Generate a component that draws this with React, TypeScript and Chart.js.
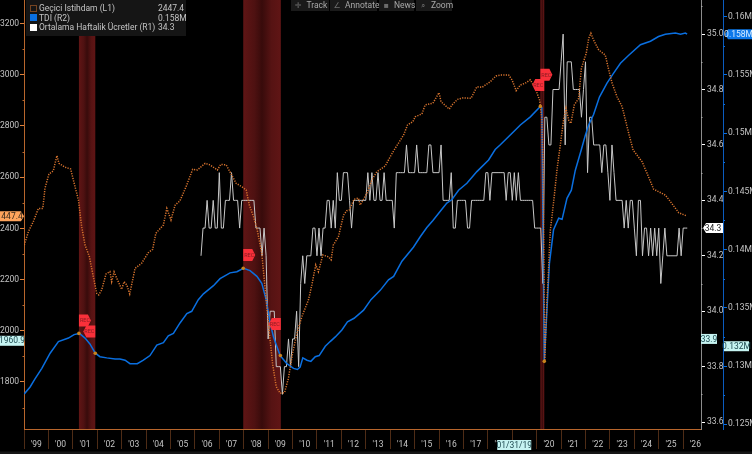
import React, { useEffect, useRef } from "react";
import { Chart, registerables } from "chart.js";

Chart.register(...registerables);

const tempYears = [1999.01,1999.18,1999.38,1999.59,1999.77,1999.86,2000.02,2000.2,2000.35,2000.43,2000.68,2000.91,2001.09,2001.23,2001.36,2001.5,2001.68,2001.84,2001.98,2002.06,2002.18,2002.36,2002.52,2002.59,2002.69,2002.8,2003.0,2003.1,2003.21,2003.33,2003.55,2003.82,2004.09,2004.27,2004.4,2004.71,2004.85,2005.02,2005.19,2005.39,2005.64,2005.91,2006.1,2006.42,2006.62,2006.92,2007.06,2007.28,2007.47,2007.69,2007.92,2008.1,2008.23,2008.4,2008.54,2008.74,2008.92,2009.05,2009.19,2009.33,2009.49,2009.67,2009.83,2010.0,2010.18,2010.38,2010.65,2010.79,2010.95,2011.06,2011.24,2011.47,2011.58,2011.67,2011.88,2012.09,2012.22,2012.33,2012.52,2012.7,2012.77,2012.91,2013.07,2013.25,2013.45,2013.8,2014.0,2014.16,2014.55,2014.71,2014.93,2015.02,2015.3,2015.43,2015.75,2016.0,2016.08,2016.42,2016.53,2016.76,2017.0,2017.31,2017.55,2017.76,2018.1,2018.33,2018.51,2018.85,2018.99,2019.16,2019.33,2019.53,2019.74,2019.94,2020.12,2020.21,2020.26,2020.33,2020.42,2020.46,2020.52,2020.56,2020.69,2020.83,2020.94,2021.1,2021.2,2021.31,2021.4,2021.54,2021.72,2021.83,2022.03,2022.13,2022.22,2022.33,2022.54,2022.81,2022.95,2023.09,2023.29,2023.5,2023.77,2023.95,2024.32,2024.52,2024.79,2025.27,2025.48,2025.82,2026.16];
const tempValues = [2335,2387,2426,2478,2478,2557,2612,2625,2684,2654,2639,2632,2563,2511,2407,2335,2289,2211,2146,2140,2159,2222,2231,2192,2230,2205,2162,2192,2179,2144,2244,2264,2305,2318,2381,2413,2478,2433,2491,2508,2563,2631,2628,2654,2648,2628,2650,2648,2615,2576,2563,2550,2491,2446,2400,2303,2120,1990,1866,1782,1756,1758,1814,1912,1990,2055,2120,2179,2257,2231,2296,2289,2277,2335,2368,2452,2469,2472,2514,2518,2491,2514,2543,2589,2621,2644,2680,2706,2765,2804,2817,2836,2847,2882,2889,2930,2895,2866,2882,2904,2910,2908,2953,2951,2973,2995,2999,2999,2980,2938,2960,2967,2980,2947,2901,2831,2628,1882,2120,2187,2316,2394,2499,2628,2706,2823,2869,2823,2810,2882,2908,3025,3084,3142,3162,3136,3097,3077,3019,2967,2914,2875,2771,2706,2660,2615,2553,2530,2504,2461,2448];

const tdiYears = [1999.01,1999.25,1999.45,1999.73,2000.07,2000.41,2000.82,2001.05,2001.27,2001.5,2001.7,2001.92,2002.11,2002.39,2002.73,2002.93,2003.14,2003.34,2003.64,2003.89,2004.16,2004.44,2004.71,2004.91,2005.12,2005.39,2005.67,2005.87,2006.14,2006.35,2006.76,2007.03,2007.44,2007.72,2007.99,2008.26,2008.54,2008.74,2008.92,2009.08,2009.22,2009.49,2009.77,2010.04,2010.2,2010.31,2010.42,2010.59,2010.75,2010.93,2011.09,2011.34,2011.54,2011.75,2012.02,2012.25,2012.52,2012.91,2013.21,2013.59,2013.93,2014.14,2014.48,2014.95,2015.23,2015.5,2015.75,2016.05,2016.32,2016.53,2016.8,2017.14,2017.55,2018.03,2018.3,2018.51,2018.99,2019.33,2019.74,2020.15,2020.21,2020.31,2020.45,2020.52,2020.69,2020.9,2021.04,2021.24,2021.42,2021.58,2021.83,2021.99,2022.13,2022.33,2022.57,2022.88,2023.13,2023.43,2023.77,2024.25,2024.66,2024.99,2025.27,2025.68,2025.89,2026.09,2026.16];
const tdiValues = [0.1276,0.1282,0.1289,0.1298,0.1311,0.1321,0.1324,0.1327,0.1328,0.1324,0.1319,0.1311,0.1308,0.1307,0.1306,0.1306,0.1305,0.1302,0.1302,0.1305,0.1309,0.1318,0.132,0.1326,0.1328,0.1337,0.1345,0.1347,0.1357,0.1362,0.1369,0.1375,0.138,0.1381,0.1384,0.1382,0.1377,0.1371,0.1357,0.1337,0.1325,0.1309,0.1302,0.1298,0.1297,0.1299,0.1307,0.1305,0.1304,0.1308,0.1309,0.1317,0.1321,0.1325,0.1331,0.1338,0.1341,0.1348,0.1357,0.1365,0.1374,0.1377,0.139,0.1402,0.1411,0.1419,0.1425,0.1433,0.144,0.1443,0.1451,0.1457,0.1467,0.1477,0.1486,0.149,0.15,0.1507,0.1514,0.1523,0.1522,0.1304,0.136,0.1388,0.1417,0.1427,0.1426,0.1444,0.1451,0.1468,0.1486,0.1498,0.1507,0.1516,0.1531,0.1543,0.1551,0.156,0.1567,0.1576,0.1579,0.1583,0.1585,0.1586,0.1585,0.1586,0.1585];

const hoursStartYear = 2006.25;
const hoursValues = [34.2,34.3,34.3,34.4,34.3,34.3,34.4,34.3,34.3,34.5,34.3,34.3,34.4,34.4,34.4,34.5,34.4,34.4,34.4,34.3,34.4,34.4,34.4,34.4,34.4,34.4,34.4,34.3,34.3,34.3,34.2,34.3,34.2,33.9,34.0,34.0,34.0,33.8,33.8,33.8,33.7,33.8,33.8,33.9,33.8,33.9,33.9,34.0,33.8,34.1,34.2,34.1,34.2,34.2,34.2,34.3,34.3,34.2,34.3,34.2,34.3,34.3,34.4,34.4,34.3,34.4,34.3,34.5,34.4,34.4,34.5,34.5,34.5,34.4,34.3,34.4,34.4,34.4,34.4,34.4,34.4,34.4,34.5,34.4,34.5,34.4,34.4,34.5,34.4,34.4,34.5,34.4,34.4,34.4,34.4,34.3,34.5,34.5,34.5,34.5,34.5,34.6,34.5,34.5,34.5,34.5,34.6,34.5,34.5,34.5,34.5,34.5,34.6,34.6,34.5,34.5,34.5,34.5,34.6,34.4,34.4,34.4,34.4,34.5,34.3,34.3,34.4,34.4,34.4,34.4,34.4,34.3,34.3,34.4,34.4,34.4,34.4,34.4,34.4,34.4,34.5,34.5,34.4,34.5,34.5,34.5,34.5,34.5,34.5,34.5,34.4,34.5,34.5,34.4,34.5,34.4,34.5,34.4,34.4,34.4,34.4,34.4,34.4,34.4,34.3,34.3,34.3,34.3,34.1,34.7,34.7,34.6,34.6,34.8,34.8,34.8,34.8,34.9,35.0,34.6,34.9,34.9,34.9,34.8,34.8,34.8,34.8,34.7,34.8,34.9,34.5,34.7,34.7,34.6,34.6,34.6,34.6,34.5,34.6,34.6,34.5,34.4,34.6,34.5,34.4,34.4,34.4,34.4,34.3,34.4,34.3,34.4,34.4,34.3,34.2,34.4,34.4,34.2,34.3,34.3,34.2,34.3,34.2,34.3,34.2,34.3,34.1,34.2,34.3,34.2,34.2,34.2,34.2,34.2,34.2,34.3,34.2,34.3,34.3,34.3];

const recessionStarts = [2001.25, 2007.98, 2020.15];
const recessionEnds = [2001.92, 2009.52, 2020.31];
const recMarkerValues = [2040, 1997, 2296, 2027, 3000, 2960];
const recPointYears = [2001.25, 2001.92, 2007.98, 2009.5, 2020.15, 2020.31];
const recPointValues = [0.1328, 0.1311, 0.1384, 0.1309, 0.1523, 0.1304];

const yearTicks = ["'99","'00","'01","'02","'03","'04","'05","'06","'07","'08","'09","'10","'11","'12","'13","'14","'15","'16","'17","'18","'19","'20","'21","'22","'23","'24","'25","'26"];
const firstYear = 1999;
const leftTicks = [1800, 2000, 2200, 2400, 2600, 2800, 3000, 3200];
const leftMinor = [1700, 1900, 2100, 2300, 2500, 2700, 2900, 3100];
const hoursTicks = [33.6, 33.8, 34.0, 34.2, 34.4, 34.6, 34.8, 35.0];
const hoursMinor = [33.7, 33.9, 34.1, 34.3, 34.5, 34.7, 34.9, 35.1];
const tdiTicks = [0.125, 0.13, 0.135, 0.14, 0.145, 0.15, 0.155, 0.16];
const tdiMinor = [0.1275, 0.1325, 0.1375, 0.1425, 0.1475, 0.1525, 0.1575];

const legendNames = ["Geçici Istihdam (L1)", "TDI (R2)", "Ortalama Haftalik Ücretler (R1)"];
const legendValues = ["2447.4", "0.158M", "34.3"];
const toolbarNames = ["Track", "Annotate", "News", "Zoom"];
const toolbarIcons = ["✛", "∠", "▪", "⌕"];

const ORANGE = "#d8742e";
const AXIS_ORANGE = "#b8662c";
const BLUE = "#0a6fe0";
const WHITE = "#c8c8c8";
const LABEL = "#c4c4c4";
const FONT = "Roboto";

function tagShape(ctx: any, x0: number, x1: number, y: number, h: number, side: string) {
  ctx.beginPath();
  if (side === "right") {
    ctx.moveTo(x0, y - h / 2);
    ctx.lineTo(x1 - 3, y - h / 2);
    ctx.lineTo(x1, y);
    ctx.lineTo(x1 - 3, y + h / 2);
    ctx.lineTo(x0, y + h / 2);
  } else if (side === "left") {
    ctx.moveTo(x1, y - h / 2);
    ctx.lineTo(x0 + 3, y - h / 2);
    ctx.lineTo(x0, y);
    ctx.lineTo(x0 + 3, y + h / 2);
    ctx.lineTo(x1, y + h / 2);
  } else {
    ctx.rect(x0, y - h / 2, x1 - x0, h);
  }
  ctx.closePath();
  ctx.fill();
}

const noPadding = (s: any) => {
  s.paddingTop = 0;
  s.paddingBottom = 0;
  s.paddingLeft = 0;
  s.paddingRight = 0;
};

const overlays = {
  id: "overlays",
  beforeDatasetsDraw(chart: any) {
    const { ctx, chartArea, scales } = chart;
    ctx.save();
    recessionStarts.forEach((s, i) => {
      const a = scales.x.getPixelForValue(s);
      const b = scales.x.getPixelForValue(recessionEnds[i]);
      const g = ctx.createLinearGradient(a, 0, b, 0);
      g.addColorStop(0, "#601515");
      g.addColorStop(0.3, "#4e1111");
      g.addColorStop(0.5, "#380b0b");
      g.addColorStop(0.75, "#561313");
      g.addColorStop(1, "#601515");
      ctx.fillStyle = g;
      ctx.fillRect(a, chartArea.top, b - a, chartArea.bottom - chartArea.top);
    });
    ctx.restore();
  },
  afterDraw(chart: any) {
    const { ctx, scales, chartArea } = chart;
    const { x, yL, yW, yB } = scales;
    ctx.save();
    ctx.textBaseline = "middle";

    const minor = (scale: any, vals: number[], px: number, dir: number, color: string) => {
      ctx.fillStyle = color;
      vals.forEach((v) => {
        const y = scale.getPixelForValue(v);
        ctx.fillRect(dir > 0 ? px : px - 1.5, Math.round(y), 1.5, 1);
      });
    };
    minor(yL, leftMinor, chartArea.left, -1, AXIS_ORANGE);
    minor(yW, hoursMinor, chartArea.right, 1, "#aaaaaa");
    minor(yB, tdiMinor, 723.5, 1, BLUE);

    // REC markers
    recMarkerValues.forEach((v, i) => {
      const band = Math.floor(i / 2);
      const isStart = i % 2 === 0;
      const px = scales.x.getPixelForValue(isStart ? recessionStarts[band] : recessionEnds[band]);
      const y = yL.getPixelForValue(v);
      const x0 = isStart ? px : px - 12;
      const x1 = isStart ? px + 12 : px;
      ctx.fillStyle = "#f9303a";
      tagShape(ctx, x0, x1, y, 12, isStart ? "right" : "left");
      ctx.fillStyle = "#8c1c22";
      ctx.font = `5.5px ${FONT}`;
      ctx.textAlign = "center";
      ctx.fillText("REC", (x0 + x1) / 2, y + 0.5);
    });

    // Axis value tags
    ctx.font = `8.5px ${FONT}`;
    const tag = (text: string, x0: number, x1: number, y: number, bg: string, fg: string, side: string) => {
      ctx.fillStyle = bg;
      tagShape(ctx, x0, x1, y, 10, side);
      ctx.fillStyle = fg;
      ctx.textAlign = "center";
      ctx.fillText(text, (x0 + x1) / 2, y + 0.5);
    };
    tag("447.4", 0, 24, yL.getPixelForValue(2447.4), "#ffa45c", "#3a2a1a", "right");
    tag("1960.9", 0, 24, yL.getPixelForValue(1960.9), "#c6f4f2", "#1e4a50", "none");
    tag("34.3", 703, 723, yW.getPixelForValue(34.3), "#ffffff", "#222222", "left");
    tag("33.9", 701, 717, yW.getPixelForValue(33.9), "#c6f4f2", "#1e4a50", "none");
    tag("0.158M", 725, 752, yB.getPixelForValue(0.1585), "#0c78ea", "#d6ecff", "left");
    tag("0.132M", 724, 749, yB.getPixelForValue(0.1317), "#c6f4f2", "#1e4a50", "none");
    const dx = x.getPixelForValue(2019.08);
    ctx.fillStyle = "#c6f4f2";
    ctx.fillRect(dx - 17, 440, 34, 10);
    ctx.fillStyle = "#1e4a50";
    ctx.textAlign = "center";
    ctx.fillText("01/31/19", dx, 445.5);

    // Legend
    ctx.fillStyle = "#151515";
    ctx.fillRect(26, 0, 160, 36);
    ctx.font = `8.5px ${FONT}`;
    ctx.textAlign = "left";
    legendNames.forEach((name, i) => {
      const y = 9 + i * 9.6;
      ctx.fillStyle = LABEL;
      ctx.fillText(name, 39, y);
      ctx.fillText(legendValues[i], 158, y);
    });
    ctx.strokeStyle = ORANGE;
    ctx.setLineDash([1, 1]);
    ctx.strokeRect(30.5, 5.5, 6, 6);
    ctx.setLineDash([]);
    ctx.fillStyle = BLUE;
    ctx.fillRect(30, 14, 7, 7);
    ctx.fillStyle = "#ffffff";
    ctx.fillRect(30, 24, 7, 7);

    // Toolbar
    const barX = [291, 330, 379, 416];
    const barW = [38, 47, 35, 36];
    const textX = [306.5, 345, 394, 431];
    const iconX = [298, 337, 386, 423];
    toolbarNames.forEach((name, i) => {
      ctx.fillStyle = "#1a1a1a";
      ctx.fillRect(barX[i], 0, barW[i], 11);
      ctx.fillStyle = "#a8a8a8";
      ctx.font = `8.5px ${FONT}`;
      ctx.textAlign = "left";
      ctx.fillText(name, textX[i], 5.5);
      ctx.fillStyle = "#6c6c6c";
      ctx.textAlign = "center";
      ctx.font = `8px "DejaVu Sans"`;
      ctx.fillText(toolbarIcons[i], iconX[i], 5.5);
    });

    ctx.fillStyle = "#161616";
    ctx.fillRect(0, 451.5, 752, 2.5);
    ctx.restore();
  },
};

export default function App() {
  const ref = useRef<HTMLCanvasElement>(null);
  useEffect(() => {
    const tickFont = { family: FONT, size: 8.5 };
    const xTickValues: any[] = [];
    yearTicks.forEach((_, i) => {
      xTickValues.push({ value: firstYear + i });
      xTickValues.push({ value: firstYear + i + 0.5 });
    });
    const chart = new Chart(ref.current as HTMLCanvasElement, {
      type: "line",
      data: {
        datasets: [
          {
            label: "points",
            data: recPointYears.map((x, i) => ({ x, y: recPointValues[i] })),
            yAxisID: "yB",
            showLine: false,
            pointRadius: 1.8,
            pointBackgroundColor: "#c8841e",
            pointBorderWidth: 0,
            order: 0,
          },
          {
            label: legendNames[1],
            data: tdiYears.map((x, i) => ({ x, y: tdiValues[i] })),
            yAxisID: "yB",
            borderColor: BLUE,
            borderWidth: 1.5,
            pointRadius: 0,
            order: 2,
          },
          {
            label: legendNames[0],
            data: tempYears.map((x, i) => ({ x, y: tempValues[i] })),
            yAxisID: "yL",
            borderColor: ORANGE,
            borderWidth: 1.5,
            borderDash: [1.2, 1.3],
            pointRadius: 0,
            order: 1,
          },
          {
            label: legendNames[2],
            data: hoursValues.map((y, i) => ({ x: hoursStartYear + i / 12, y })),
            yAxisID: "yW",
            borderColor: WHITE,
            borderWidth: 1,
            pointRadius: 0,
            order: 3,
          },
        ],
      },
      options: {
        responsive: false,
        animation: false,
        devicePixelRatio: 1,
        parsing: false,
        layout: { padding: 0, autoPadding: false },
        plugins: { legend: { display: false }, tooltip: { enabled: false } },
        scales: {
          x: {
            type: "linear",
            min: 1999,
            max: 2026.73,
            afterBuildTicks: (s: any) => {
              s.ticks = xTickValues.map((t) => ({ ...t }));
            },
            afterFit: (s: any) => {
              s.height = 25;
              noPadding(s);
            },
            border: { color: AXIS_ORANGE, width: 1 },
            grid: {
              drawOnChartArea: false,
              tickLength: 20,
              tickColor: (c: any) =>
                c.tick && Number.isInteger(c.tick.value) ? "#4e2c16" : "rgba(0,0,0,0)",
            },
            ticks: {
              autoSkip: false,
              maxRotation: 0,
              minRotation: 0,
              padding: -9,
              color: LABEL,
              font: tickFont,
              callback: (v: any) =>
                Number.isInteger(v) ? "" : yearTicks[Math.floor(v) - firstYear],
            },
          },
          yL: {
            type: "linear",
            position: "left",
            min: 1616.4,
            max: 3292,
            afterBuildTicks: (s: any) => {
              s.ticks = leftTicks.map((value) => ({ value }));
            },
            afterFit: (s: any) => {
              s.width = 24;
              noPadding(s);
            },
            border: { color: AXIS_ORANGE, width: 1 },
            grid: { drawOnChartArea: false, tickLength: 4, tickColor: "#e0823c" },
            ticks: { padding: 1, color: LABEL, font: tickFont, callback: (v: any) => String(v) },
          },
          yW: {
            type: "linear",
            position: "right",
            weight: 1,
            min: 33.575,
            max: 35.123,
            afterBuildTicks: (s: any) => {
              s.ticks = hoursTicks.map((value) => ({ value }));
            },
            afterFit: (s: any) => {
              s.width = 22;
              noPadding(s);
            },
            border: { color: "#8c8c8c", width: 1 },
            grid: { drawOnChartArea: false, tickLength: 4, tickColor: "#ffffff" },
            ticks: { padding: 2, color: LABEL, font: tickFont, callback: (v: any) => Number(v).toFixed(1) },
          },
          yB: {
            type: "linear",
            position: "right",
            weight: 2,
            min: 0.12459,
            max: 0.16144,
            afterBuildTicks: (s: any) => {
              s.ticks = tdiTicks.map((value) => ({ value }));
            },
            afterFit: (s: any) => {
              s.width = 29;
              noPadding(s);
            },
            border: { color: "#0a5cc0", width: 1 },
            grid: { drawOnChartArea: false, tickLength: 4, tickColor: BLUE },
            ticks: {
              padding: 1,
              color: LABEL,
              font: tickFont,
              callback: (v: any) => `${Number(v.toFixed(3))}M`,
            },
          },
        },
      },
      plugins: [overlays],
    } as any);
    return () => chart.destroy();
  }, []);
  return (
    <div style={{ position: "fixed", left: 0, top: 0, width: 752, height: 454, background: "#000" }}>
      <canvas ref={ref} width={752} height={454} style={{ display: "block" }} />
    </div>
  );
}
